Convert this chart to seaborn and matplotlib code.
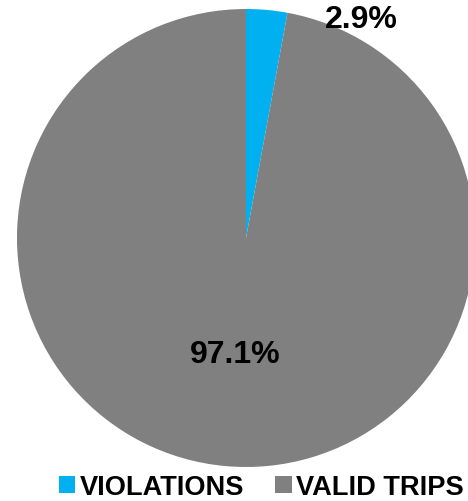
import matplotlib
matplotlib.use("Agg")
import matplotlib.pyplot as plt
import seaborn as sns
from matplotlib.patches import Patch

sns.set_theme(style="white")
plt.rcParams['font.family'] = ['Liberation Sans', 'DejaVu Sans']

categories = ["VIOLATIONS", "VALID TRIPS"]
values = [2.9, 97.1]
colors = ["#00B0F0", "#808080"]

W, H = 468, 502
fig = plt.figure(figsize=(W / 100, H / 100), dpi=100)
# square axes in pixels: center (246, 239), radius 229
cx, cy, r = 246, 239, 229
ax = fig.add_axes([(cx - r) / W, (H - cy - r) / H, 2 * r / W, 2 * r / H])

wedges, texts, autotexts = ax.pie(
    values, colors=colors, startangle=90, counterclock=False,
    autopct=lambda p: f"{p:.1f}%", pctdistance=0.51,
    wedgeprops=dict(linewidth=0),
    textprops=dict(fontsize=23, fontweight="bold", color="black"),
)
ax.set_xlim(-1, 1)
ax.set_ylim(-1, 1)
ax.set_aspect("auto")
ax.axis("off")
# move small slice label outside, top right
autotexts[0].set_position((0.505, 0.956))
autotexts[0].set_clip_on(False)

handles = [Patch(facecolor=c, edgecolor="none") for c in colors]
leg = fig.legend(handles, categories, loc="center", bbox_to_anchor=(0.558, 0.027),
                 ncol=2, frameon=False, handlelength=0.6, handleheight=0.6,
                 handletextpad=0.15, columnspacing=1.15,
                 prop=dict(size=19.6, weight="bold"), labelcolor="black")
for t in leg.get_texts():
    t.set_fontweight("bold")

fig.savefig("out.png", dpi=100)
